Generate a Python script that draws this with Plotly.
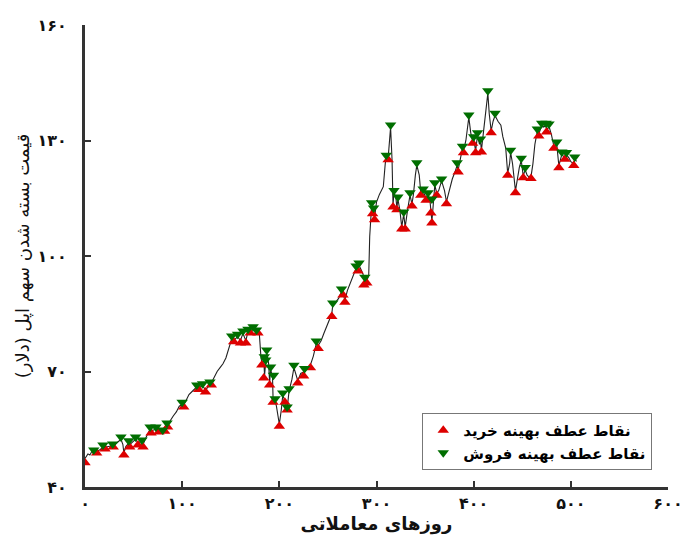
import plotly.graph_objects as go

# Closing price line (trading day, price)
line_days = [0, 3, 5, 7, 9, 12, 15, 18.5, 20.6, 24, 28.5, 29.5, 33, 37, 39, 40, 42, 45, 46, 49,
             52, 54.5, 57, 58.6, 59.7, 63, 67, 68, 71, 73, 76, 78, 80, 82, 84.4, 85, 88, 91, 94, 97,
             100, 101.6, 104, 107, 111, 115, 117, 121, 124, 128.6, 130, 133, 136, 139, 142, 145, 147, 149, 151, 153,
             155, 157, 160, 162.5, 165.6, 167.7, 170, 173, 176.5, 178, 179.5, 181, 182, 184, 184.8, 186, 187, 189, 190, 191,
             193, 193.6, 195.6, 197, 200, 202, 203.5, 205.7, 208, 210, 213, 215, 217, 219, 222, 226, 229, 232, 235, 238,
             240, 243, 246, 249, 252, 254, 255, 258, 261, 264, 265.5, 267.5, 270, 273, 276, 279, 281, 282, 285, 288,
             290, 292, 293, 294, 295, 296, 297, 298, 300, 303, 305, 307, 309, 310, 312, 313, 314.5, 316, 317, 318,
             320, 321, 322, 324, 326, 328, 329.5, 332, 334.5, 336.5, 338, 340, 341.5, 344, 345.6, 348, 351, 353, 355, 356,
             357, 358, 360, 362, 364, 367, 370, 372, 375, 378, 381, 383, 384, 386, 388.5, 389.5, 392, 395, 397, 399,
             400, 402, 404, 406, 407, 408, 410, 412, 414.6, 416, 418, 420, 422, 425, 428, 430, 433, 435, 437, 438,
             440, 443, 445, 447, 449, 451, 453, 455, 457, 459, 461, 463, 465.5, 467, 470, 472, 474.5, 475.5, 477.5, 480,
             482.6, 485.5, 487.7, 490.7, 492, 494, 495.5, 498, 500, 503, 504, 506]
line_prices = [47.4, 48.6, 48.3, 49.2, 49.0, 49.3, 49.6, 50.3, 50.3, 50.5, 50.7, 50.8, 51.5, 52.4, 51.0, 48.9, 50.5, 51.4, 51.0, 51.8,
               52.4, 51.4, 51.8, 51.6, 51.0, 53.0, 55.0, 54.6, 54.8, 55.0, 54.8, 54.7, 54.2, 55.0, 56.0, 56.2, 57.5, 58.5, 59.5, 61.0,
               61.4, 61.4, 62.5, 64.0, 65.0, 66.0, 65.8, 66.3, 65.2, 66.8, 67.0, 68.5, 70.0, 71.0, 72.0, 73.5, 75.0, 76.5, 78.5, 78.2,
               78.5, 79.1, 78.0, 79.9, 78.0, 80.4, 80.5, 81.0, 80.3, 80.4, 79.5, 74.0, 72.2, 73.0, 69.0, 72.5, 75.0, 72.0, 67.0, 70.6,
               68.5, 62.6, 62.3, 61.0, 56.3, 60.0, 63.8, 62.5, 60.2, 64.9, 68.0, 71.0, 69.0, 67.6, 69.5, 70.0, 71.0, 71.7, 74.0, 77.2,
               76.8, 78.0, 80.0, 82.0, 84.0, 85.0, 87.3, 88.0, 89.0, 90.8, 90.3, 88.5, 91.0, 93.0, 95.0, 96.8, 96.6, 97.6, 96.0, 94.0,
               93.5, 95.0, 105.0, 110.0, 113.2, 111.5, 112.0, 110.0, 114.0, 116.0, 117.0, 118.0, 124.0, 125.6, 125.5, 128.0, 133.4, 125.0, 113.2, 116.5,
               115.0, 112.5, 114.8, 112.0, 107.5, 110.9, 107.5, 112.0, 115.8, 113.5, 116.0, 121.0, 123.6, 121.0, 116.3, 116.9, 115.0, 115.9, 114.5, 111.7,
               109.1, 112.0, 118.4, 116.3, 117.0, 119.5, 117.0, 114.1, 117.0, 120.0, 122.0, 123.6, 122.3, 125.0, 128.0, 127.3, 130.0, 136.0, 132.0, 129.8,
               130.4, 127.3, 131.4, 129.0, 129.8, 127.5, 132.0, 138.0, 142.3, 137.0, 132.5, 135.0, 136.5, 135.0, 134.0, 131.0, 128.0, 121.5, 124.0, 126.9,
               124.0, 116.9, 120.0, 123.0, 124.8, 120.8, 122.4, 121.0, 120.5, 120.6, 124.0, 129.0, 132.4, 131.7, 133.9, 133.5, 133.9, 132.7, 133.7, 131.5,
               128.5, 129.0, 123.4, 126.4, 126.0, 125.6, 126.3, 125.5, 124.5, 124.0, 125.1, 124.6]

# Optimal buy turning points (red up-triangles)
buy_days = [0, 12, 20.6, 29, 40, 46, 54.5, 59.7, 68, 76, 82, 85, 101.6, 117, 124, 130, 153, 160, 165.6, 170,
            178, 182, 184, 190, 193.6, 200, 205.7, 208, 219, 225, 232, 240, 254, 265.5, 267.5, 281, 287, 290, 296, 298,
            312, 317, 321, 326, 329.5, 336.5, 345.6, 351, 356, 357, 362, 372, 384, 389.5, 399, 402, 408, 418, 435, 443,
            451, 459, 467, 475, 482.6, 487.7, 494, 503]
buy_prices = [46.3, 48.8, 49.9, 50.4, 48.3, 50.4, 50.9, 50.4, 54.0, 54.3, 54.5, 55.6, 60.8, 65.3, 64.7, 66.5, 77.7, 77.4, 77.4, 80.0,
              80.0, 71.7, 68.3, 66.5, 62.0, 55.8, 62.0, 60.0, 67.0, 68.8, 71.0, 76.0, 84.3, 89.9, 88.0, 96.1, 92.5, 93.0, 111.0, 109.4,
              125.0, 112.7, 112.0, 107.0, 107.0, 113.0, 115.8, 114.5, 111.2, 108.6, 115.8, 113.6, 121.8, 126.8, 129.3, 126.8, 127.0, 132.0, 121.0, 116.4,
              120.3, 120.1, 131.2, 132.2, 128.0, 122.9, 125.1, 123.5]

# Optimal sell turning points (green down-triangles)
sell_days = [9, 18.5, 28.5, 37, 45, 52, 58.6, 67, 73, 80, 84.4, 100, 115, 121, 128.6, 151, 157, 162.5, 167.7, 173,
             176.5, 184.5, 186, 187, 191, 194, 195.6, 203.5, 208, 210, 215, 226, 238, 255, 264, 279, 282, 288, 295, 297,
             310, 314.5, 318, 322, 328, 334.5, 341.5, 348, 353, 357, 360, 367, 383, 388.5, 395, 400, 404, 407, 414.6, 422,
             438, 449, 453, 465.5, 470, 474.5, 477.5, 485.5, 490.7, 495.5, 504]
sell_prices = [49.6, 50.9, 51.2, 53.0, 52.0, 53.0, 52.2, 55.6, 55.6, 54.8, 56.6, 62.0, 66.5, 66.8, 67.3, 79.2, 79.7, 80.5, 81.0, 81.6,
               80.8, 73.8, 73.0, 75.6, 71.2, 69.0, 62.9, 64.4, 60.8, 65.5, 71.6, 70.8, 77.9, 87.8, 91.4, 97.4, 98.2, 94.5, 113.8, 112.5,
               126.2, 134.0, 117.0, 115.3, 111.4, 116.4, 124.2, 117.4, 116.4, 114.8, 119.0, 120.0, 124.2, 128.5, 136.6, 131.0, 132.0, 130.4, 142.9, 137.1,
               127.5, 125.4, 123.0, 133.0, 134.5, 134.5, 134.3, 129.6, 127.0, 126.9, 125.7]

x_tickvals = [0, 100, 200, 300, 400, 500, 600]
x_ticktext = ["۰", "۱۰۰", "۲۰۰", "۳۰۰", "۴۰۰", "۵۰۰", "۶۰۰"]
y_tickvals = [40, 70, 100, 130, 160]
y_ticktext = ["۴۰", "۷۰", "۱۰۰", "۱۳۰", "۱۶۰"]

FONT = "DejaVu Sans"

fig = go.Figure()
fig.add_trace(go.Scatter(x=line_days, y=line_prices, mode="lines",
                         line=dict(color="#222222", width=1.1), showlegend=False, hoverinfo="skip"))
fig.add_trace(go.Scatter(x=buy_days, y=buy_prices, mode="markers", name="نقاط عطف بهینه خرید",
                         marker=dict(symbol="triangle-up", size=10, color="#dd0000")))
fig.add_trace(go.Scatter(x=sell_days, y=sell_prices, mode="markers", name="نقاط عطف بهینه فروش",
                         marker=dict(symbol="triangle-down", size=10, color="#006e00")))

fig.update_layout(
    width=685, height=541,
    margin=dict(l=85, r=17, t=25, b=54, autoexpand=False),
    paper_bgcolor="white", plot_bgcolor="white",
    font=dict(family=FONT, color="#111111", size=14),
    legend=dict(x=0.973, y=0.037, xanchor="right", yanchor="bottom",
                bordercolor="#777777", borderwidth=1, bgcolor="white",
                font=dict(family=FONT, size=15, color="#000000", weight="bold"),
                itemwidth=30, tracegroupgap=0),
)
fig.update_xaxes(range=[0, 600], tickvals=x_tickvals, ticktext=x_ticktext, automargin=False,
                 showline=True, linecolor="#333333", linewidth=3,
                 ticks="inside", ticklen=6, tickwidth=2, tickcolor="#333333",
                 showgrid=False, zeroline=False,
                 tickfont=dict(family=FONT, size=16, color="#111111", weight="bold"),
                 title=dict(text="روزهای معاملاتی", font=dict(family=FONT, size=18, color="#111111", weight="bold"), standoff=2))
fig.update_yaxes(range=[40, 160], tickvals=y_tickvals, ticktext=y_ticktext, automargin=False,
                 showline=True, linecolor="#333333", linewidth=3,
                 ticks="inside", ticklen=6, tickwidth=2, tickcolor="#333333",
                 showgrid=False, zeroline=False, ticklabelstandoff=12,
                 tickfont=dict(family=FONT, size=16, color="#111111", weight="bold"),
                 title=dict(text="قیمت بسته شدن سهم اپل (دلار)", font=dict(family=FONT, size=18, color="#111111"), standoff=4))

fig.write_html("out.html")
